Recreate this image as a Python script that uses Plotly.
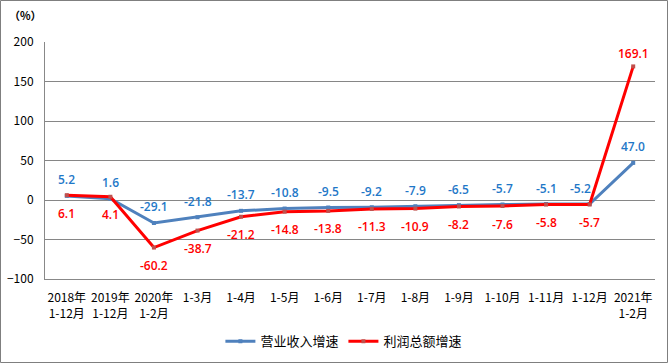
import plotly.graph_objects as go

categories = ["2018年<br>1-12月", "2019年<br>1-12月", "2020年<br>1-2月", "1-3月", "1-4月", "1-5月",
              "1-6月", "1-7月", "1-8月", "1-9月", "1-10月", "1-11月", "1-12月", "2021年<br>1-2月"]
revenue = [5.2, 1.6, -29.1, -21.8, -13.7, -10.8, -9.5, -9.2, -7.9, -6.5, -5.7, -5.1, -5.2, 47.0]
profit = [6.1, 4.1, -60.2, -38.7, -21.2, -14.8, -13.8, -11.3, -10.9, -8.2, -7.6, -5.8, -5.7, 169.1]
y_ticks = [-100, -50, 0, 50, 100, 150, 200]
series_names = ["营业收入增速", "利润总额增速"]

font = "Noto Sans CJK SC, Microsoft YaHei, sans-serif"
label_font = "Open Sans, Noto Sans CJK SC, sans-serif"
idx = list(range(len(categories)))
BLUE_LINE, BLUE_TEXT = "#4F81BD", "#1F78C8"
RED = "#FF0000"

fig = go.Figure()
fig.add_trace(go.Scatter(
    x=idx, y=revenue, name=series_names[0], mode="lines+markers",
    line=dict(color=BLUE_LINE, width=3), marker=dict(symbol="square", size=4, color=BLUE_LINE),
))
fig.add_trace(go.Scatter(
    x=idx, y=profit, name=series_names[1], mode="lines+markers",
    line=dict(color=RED, width=3), marker=dict(symbol="square", size=4, color="#C0504D"),
))

annotations = []
n = len(categories)
for i, v in enumerate(revenue):
    annotations.append(dict(x=i, y=v, xref="x", yref="y", text=f"{v:.1f}", showarrow=False,
                            yshift=16, xshift=(-9 if i == n - 2 else 0),
                            font=dict(color=BLUE_TEXT, size=12, family=label_font, weight=600)))
for i, v in enumerate(profit):
    last = i == n - 1
    annotations.append(dict(x=i, y=v, xref="x", yref="y", text=f"{v:.1f}", showarrow=False,
                            yshift=(13 if last else -18),
                            font=dict(color=RED, size=12, family=label_font, weight=600)))
annotations.append(dict(text="（%）", xref="paper", yref="paper", x=-0.062, y=1.115,
                        xanchor="left", yanchor="middle", showarrow=False,
                        font=dict(size=11, family=font, weight=600)))

fig.update_layout(
    width=668, height=363,
    margin=dict(l=45, r=13, t=42, b=84, autoexpand=False),
    paper_bgcolor="white", plot_bgcolor="white",
    font=dict(family=font, size=12, color="#000000"),
    showlegend=True,
    legend=dict(orientation="h", x=0.49, xanchor="center", y=0.06, yanchor="middle", yref="container",
                font=dict(size=13, family=font)),
    xaxis=dict(
        tickmode="array", tickvals=idx, ticktext=categories,
        range=[-0.5, n - 0.5], showgrid=False, zeroline=False,
        showline=True, linecolor="#888888", ticks="", tickfont=dict(size=12),
        ticklabelstandoff=8, automargin=False,
    ),
    yaxis=dict(
        range=[-100, 200], tickvals=y_ticks, showgrid=True, gridcolor="#868686", gridwidth=1,
        zeroline=False, showline=True, linecolor="#888888", ticks="", tickfont=dict(size=12),
        ticklabelstandoff=8, automargin=False,
    ),
    annotations=annotations,
    shapes=[dict(type="rect", xref="paper", yref="paper",
                 x0=-44.5 / 610, x1=1 + 12.5 / 610, y0=-83.5 / 237, y1=1 + 41.5 / 237,
                 line=dict(color="#7F7F7F", width=1))],
)
fig.write_html("out.html", config={"displayModeBar": False},
               post_script="document.body.style.margin='0';document.body.style.padding='0';")
